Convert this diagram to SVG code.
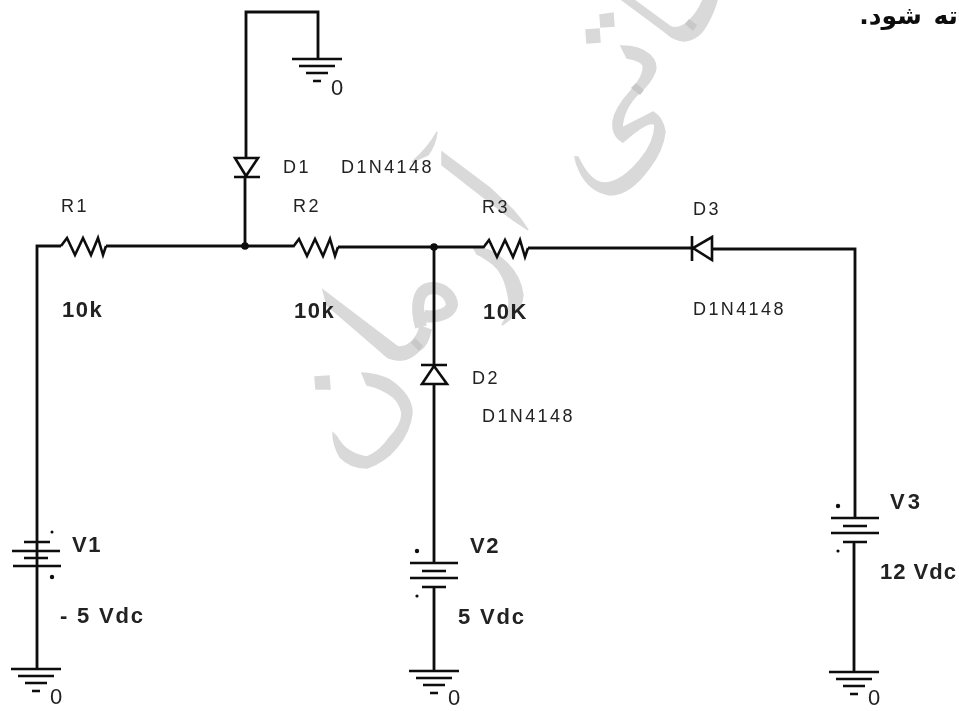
<svg xmlns="http://www.w3.org/2000/svg" width="959" height="711" viewBox="0 0 959 711">
<style>
.w{fill:none;stroke:#111;stroke-width:2.8}
.c{fill:none;stroke:#111;stroke-width:2.6;stroke-linejoin:miter}
.p{stroke:#111;stroke-width:2.6}
.m{fill:#d9d9d9;stroke:#d9d9d9;stroke-width:1.5}
.s{fill:none;stroke:#d9d9d9;stroke-width:12}
.o{fill:#c8c8c8}
.t{font-family:"Liberation Sans",Arial,sans-serif;font-size:18px;fill:#222;letter-spacing:2.4px}
.b{font-family:"Liberation Sans",Arial,sans-serif;font-size:22px;font-weight:bold;fill:#222;letter-spacing:1.5px}
.z{font-family:"Liberation Sans",Arial,sans-serif;font-size:22px;fill:#222}
.f{font-family:"DejaVu Sans",sans-serif;font-size:25px;font-weight:bold;fill:#111;word-spacing:3px}
</style>
<defs>
<filter id="soft" x="-2%" y="-2%" width="104%" height="104%"><feGaussianBlur stdDeviation="0.7"/></filter>
<g id="gnd"><path class="p" d="M-25 0H25M-18 7H18M-11 14H11M-4 22H4"/></g>
<path id="res" class="c" d="M0 0L6-8L14 9L22-8L30 9L37-8L42 9L45 0"/>
<g id="bat"><path class="p" d="M-24 0H24M-12 8H12M-24 15H24M-12 24H12"/></g>
</defs>
<rect width="959" height="711" fill="#fff"/>
<g id="watermark">
<path class="m" d="M622 0L665 32Q675 41 684 41Q698 40 706 26Q714 12 717 0H703Q698 12 690 20Q680 30 671 27L634 0Z"/>
<path class="o" d="M689 19L697 25L693 31L685 24Z"/>
<path class="m" d="M600 15L613 13L614 26L601 27Z"/>
<path class="m" d="M586 30L599 29L600 42L587 43Z"/>
<path class="m" d="M621 46Q640 46 650 55Q658 63 655 72Q650 84 640 92Q623 108 622 128L653 112Q663 118 665 132Q663 150 650 167Q630 195 610 195Q590 192 580 172Q576 164 575 157L578 157Q590 183 605 183Q622 182 640 160Q655 142 655 125Q650 118 623 142Q612 136 613 122Q615 108 630 92Q645 75 643 65Q640 60 627 58Z"/>
<path class="o" d="M636 83L644 90L640 95L631 88Z"/>
<path class="m" d="M442 152L490 188L513 210Q522 220 528 230L513 220L483 197L442 165Z"/>
<path class="m" d="M437 132Q435 146 428 155L412 162Q428 148 437 132Z"/>
<path class="m" d="M473 247Q490 248 500 257Q520 272 523 295Q522 312 502 325Q510 312 509 300Q505 272 490 262Q482 256 477 254Z"/>
<path class="m" d="M323 290L398 347Q405 347 410 343Q418 337 420 326L431 330Q428 345 420 350Q410 360 402 360Q392 360 387 357L327 305Z"/>
<path class="s" d="M421 327C415 305 418 288 433 288C445 288 452 298 452 305C450 314 436 318 424 316"/>
<path class="o" d="M415 338L423 346L419 351L411 343Z"/>
<path class="m" d="M315 377L329 376L330 389L316 389Z"/>
<path class="m" d="M362 373Q378 374 390 380Q412 395 412 413Q410 432 397 447Q385 462 367 468Q350 468 340 457Q333 445 333 433L337 437Q345 453 367 457Q380 452 390 437Q402 425 402 413Q400 403 393 397Q382 388 367 385Z"/>
</g>
<g filter="url(#soft)">
<g id="connectors">
<path class="w" d="M246 158V12H318V59"/>
<path class="w" d="M245 177V246"/>
<path class="w" d="M37 668V246H61"/>
<path class="w" d="M106 246H293"/>
<path class="w" d="M338 247H483"/>
<path class="w" d="M528 248H692"/>
<path class="w" d="M712 249H855V518"/>
<path class="w" d="M434 247V365"/>
<path class="w" d="M434 384V563"/>
<path class="w" d="M434 587V671"/>
<path class="w" d="M854 542V672"/>
<circle cx="245" cy="246" r="3.8" fill="#111"/>
<circle cx="434" cy="247" r="3.8" fill="#111"/>
</g>
<g id="R1"><use href="#res" x="61" y="246"/><text class="t" x="61" y="212">R1</text><text class="b" x="62" y="317">10k</text></g>
<g id="R2"><use href="#res" x="293" y="247"/><text class="t" x="293" y="212">R2</text><text class="b" x="294" y="318">10k</text></g>
<g id="R3"><use href="#res" x="483" y="248"/><text class="t" x="482" y="213">R3</text><text class="b" x="483" y="319">10K</text></g>
<g id="D1"><path class="c" d="M235 158H258L246 176ZM234 177H260"/><text class="t" x="283" y="173">D1</text><text class="t" x="341" y="173">D1N4148</text></g>
<g id="D2"><path class="c" d="M422 384H447L434 366ZM421 365H447"/><text class="t" x="472" y="384">D2</text><text class="t" x="482" y="422">D1N4148</text></g>
<g id="D3"><path class="c" d="M712 237V260L693 248ZM692 236V261"/><text class="t" x="693" y="215">D3</text><text class="t" x="693" y="315">D1N4148</text></g>
<g id="V1"><path class="p" d="M24 542H50M12 551H60M24 558H48M13 566H61"/><circle cx="52" cy="532" r="1.5" fill="#111"/><circle cx="52" cy="577" r="2.2" fill="#111"/><text class="b" x="72" y="552">V1</text><text class="b" x="60" y="623" style="letter-spacing:1.8px">- 5 Vdc</text></g>
<g id="V2"><use href="#bat" x="434" y="563"/><circle cx="417" cy="551" r="2.2" fill="#111"/><circle cx="417" cy="596" r="1.6" fill="#111"/><text class="b" x="470" y="553">V2</text><text class="b" x="458" y="624" style="letter-spacing:1.8px">5 Vdc</text></g>
<g id="V3"><use href="#bat" x="855" y="518"/><circle cx="838" cy="506" r="2.2" fill="#111"/><circle cx="838" cy="551" r="1.6" fill="#111"/><text class="b" x="890" y="509" style="letter-spacing:3px">V3</text><text class="b" x="880" y="579" style="letter-spacing:1px">12 Vdc</text></g>
<g id="G0"><use href="#gnd" x="317" y="59"/><text class="z" x="331" y="95">0</text></g>
<g id="G1"><use href="#gnd" x="36" y="669"/><text class="z" x="50" y="704">0</text></g>
<g id="G2"><use href="#gnd" x="434" y="671"/><text class="z" x="448" y="705">0</text></g>
<g id="G3"><use href="#gnd" x="854" y="672"/><text class="z" x="868" y="705">0</text></g>
<text class="f" x="958" y="24" direction="rtl">ته شود.</text>
</g>
</svg>
